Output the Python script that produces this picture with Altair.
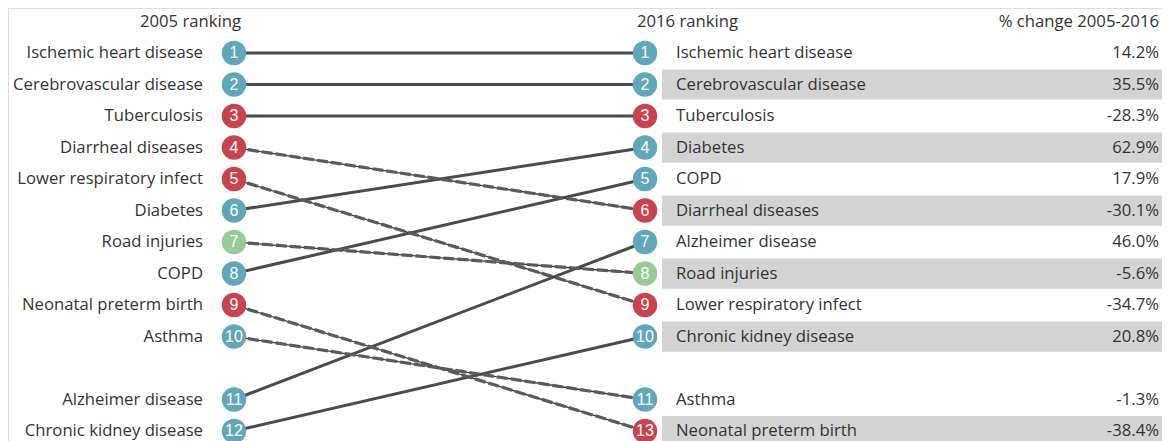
import altair as alt
import pandas as pd

diseases = ["Ischemic heart disease", "Cerebrovascular disease", "Tuberculosis",
            "Diarrheal diseases", "Lower respiratory infect", "Diabetes",
            "Road injuries", "COPD", "Neonatal preterm birth", "Asthma",
            "Alzheimer disease", "Chronic kidney disease"]
category = ["ncd", "ncd", "comm", "comm", "comm", "ncd",
            "inj", "ncd", "comm", "ncd", "ncd", "ncd"]
rank2005 = [1, 2, 3, 4, 5, 6, 7, 8, 9, 10, 11, 12]
rank2016 = [1, 2, 3, 6, 9, 4, 8, 5, 13, 11, 7, 10]
change = ["14.2%", "35.5%", "-28.3%", "-30.1%", "-34.7%", "62.9%",
          "-5.6%", "17.9%", "-38.4%", "-1.3%", "46.0%", "20.8%"]
headers = ["2005 ranking", "2016 ranking", "% change 2005-2016"]


def slots(ranks):
    # top 10 keep their rank; the rest follow after a one-row gap
    beyond = sorted(r for r in ranks if r > 10)
    return [r if r <= 10 else 11 + beyond.index(r) + 1 for r in ranks]


order16 = sorted(rank2016)
df = pd.DataFrame({
    "disease": diseases, "category": category,
    "r05": rank2005, "r16": rank2016, "change": change,
    "s05": slots(rank2005), "s16": slots(rank2016),
})
df["down"] = df["r16"] > df["r05"]
df["shade"] = [(order16.index(r) + 1) % 2 == 0 for r in rank2016]

W, H = 1154, 440
yscale = alt.Scale(domain=[-0.4286, 13.063], range=[0, 425])
colors = alt.Scale(domain=["ncd", "comm", "inj"], range=["#60a7ba", "#c8434e", "#98ca98"])
FONT = "Open Sans"
TXT = "#333333"
FS = 16.7

base = alt.Chart(df)

band = base.transform_filter("datum.shade").transform_calculate(
    ya="datum.s16 - 0.48", yb="datum.s16 + 0.48"
).mark_rect(color="#d3d3d3").encode(
    x=alt.value(654), x2=alt.value(1158),
    y=alt.Y("ya:Q", scale=yscale, axis=None), y2="yb:Q")

solid = base.transform_filter("!datum.down").mark_rule(color="#4a4a4a", strokeWidth=3).encode(
    x=alt.value(226), x2=alt.value(637),
    y=alt.Y("s05:Q", scale=yscale, axis=None), y2="s16:Q")

thin = base.transform_filter("datum.down").mark_rule(color="#3a3a3a", strokeWidth=1.3).encode(
    x=alt.value(226), x2=alt.value(637),
    y=alt.Y("s05:Q", scale=yscale, axis=None), y2="s16:Q")

dashed = base.transform_filter("datum.down").mark_rule(
    color="#5a5a5a", strokeWidth=3.2, strokeDash=[11, 3]).encode(
    x=alt.value(226), x2=alt.value(637),
    y=alt.Y("s05:Q", scale=yscale, axis=None), y2="s16:Q")

c05 = base.mark_circle(size=600, opacity=1).encode(
    x=alt.value(226), y=alt.Y("s05:Q", scale=yscale, axis=None),
    color=alt.Color("category:N", scale=colors, legend=None))
c16 = base.mark_circle(size=600, opacity=1).encode(
    x=alt.value(637), y=alt.Y("s16:Q", scale=yscale, axis=None),
    color=alt.Color("category:N", scale=colors, legend=None))

n05 = base.mark_text(font="Liberation Sans", fontSize=16, color="white", baseline="middle").encode(
    x=alt.value(226), y=alt.Y("s05:Q", scale=yscale, axis=None), text="r05:Q")
n16 = base.mark_text(font="Liberation Sans", fontSize=16, color="white", baseline="middle").encode(
    x=alt.value(637), y=alt.Y("s16:Q", scale=yscale, axis=None), text="r16:Q")

l05 = base.mark_text(font=FONT, fontSize=FS, color=TXT, align="right", baseline="middle").encode(
    x=alt.value(195), y=alt.Y("s05:Q", scale=yscale, axis=None), text="disease:N")
l16 = base.mark_text(font=FONT, fontSize=FS, color=TXT, align="left", baseline="middle").encode(
    x=alt.value(668), y=alt.Y("s16:Q", scale=yscale, axis=None), text="disease:N")
pct = base.mark_text(font=FONT, fontSize=FS, color=TXT, align="right", baseline="middle").encode(
    x=alt.value(1151), y=alt.Y("s16:Q", scale=yscale, axis=None), text="change:N")

hdf = pd.DataFrame({"h": headers, "slot": [0, 0, 0]})
hbase = alt.Chart(hdf)
h1 = hbase.transform_filter(alt.datum.h == headers[0]).mark_text(
    font=FONT, fontSize=FS, color=TXT, align="right", baseline="middle").encode(
    x=alt.value(233), y=alt.Y("slot:Q", scale=yscale, axis=None), text="h:N")
h2 = hbase.transform_filter(alt.datum.h == headers[1]).mark_text(
    font=FONT, fontSize=FS, color=TXT, align="left", baseline="middle").encode(
    x=alt.value(629), y=alt.Y("slot:Q", scale=yscale, axis=None), text="h:N")
h3 = hbase.transform_filter(alt.datum.h == headers[2]).mark_text(
    font=FONT, fontSize=FS, color=TXT, align="right", baseline="middle").encode(
    x=alt.value(1151), y=alt.Y("slot:Q", scale=yscale, axis=None), text="h:N")

chart = alt.layer(band, solid, thin, dashed, c05, c16, n05, n16, l05, l16, pct, h1, h2, h3).properties(
    width=W, height=H, autosize=alt.AutoSizeParams(type="none"), padding=0
).configure_view(stroke=None).configure(background="white")

chart.save("out.html", embed_options={"renderer": "svg", "actions": False})
